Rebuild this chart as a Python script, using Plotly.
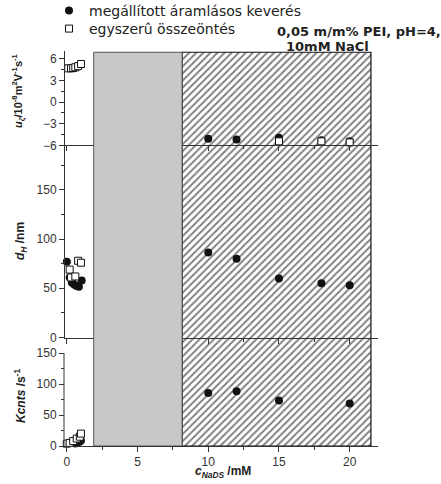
import plotly.graph_objects as go

# ---------------- data ----------------
series_names = ["megállított áramlásos keverés", "egyszerû összeöntés"]
title_line1 = "0,05 m/m% PEI, pH=4,"
title_line2 = "10mM NaCl"

# concentration regions (mM)
gray_region = [1.9, 8.15]
hatch_region = [8.15, 21.5]
x_range = [-0.2, 22.0]
x_ticks = [0, 5, 10, 15, 20]

# top panel: electrophoretic mobility (10^-8 m2 V-1 s-1)
u_flow_c = [10, 12, 15, 18, 20]
u_flow = [-5.1, -5.2, -4.95, -5.3, -5.45]
u_pour_c = [0.1, 0.3, 0.45, 0.6, 0.8, 1.0, 15, 18, 20]
u_pour = [4.7, 4.7, 4.75, 4.85, 5.0, 5.3, -5.45, -5.45, -5.6]
u_ticks = [-6, -3, 0, 3, 6]
u_range = [-6, 7.15]

# middle panel: hydrodynamic diameter (nm)
d_flow_c = [0.0, 0.2, 0.35, 0.5, 0.65, 0.85, 1.05, 10, 12, 15, 18, 20]
d_flow = [77, 61, 56, 54, 52.5, 51.5, 58, 86.4, 80, 60, 55, 53]
d_pour_c = [0.2, 0.3, 0.6, 0.8, 1.0]
d_pour = [69, 61, 62, 78, 76]
d_ticks = [0, 50, 100, 150]
d_range = [0, 195.3]

# bottom panel: count rate (Kcnts/s)
k_flow_c = [0.6, 0.75, 0.9, 1.0, 10, 12, 15, 20]
k_flow = [4, 5.5, 7, 9, 85.5, 88.5, 73.5, 68.5]
k_pour_c = [0.0, 0.2, 0.45, 0.7, 0.92, 1.0]
k_pour = [3.8, 5, 8, 12, 15, 20]
k_ticks = [0, 50, 100, 150]
k_range = [0, 175]

# ---------------- figure ----------------
FONT = "Arial, Liberation Sans, sans-serif"
WIDE = "DejaVu Sans, Arial, sans-serif"
AX = "#333333"
TXT = "#222222"
fig = go.Figure()

# hatched region (drawn first, underneath everything)
fig.add_trace(go.Scatter(
    x=[hatch_region[0], hatch_region[1], hatch_region[1], hatch_region[0], hatch_region[0]],
    y=[0, 0, 1, 1, 0], xaxis="x", yaxis="y", mode="lines", fill="toself",
    fillcolor="rgba(0,0,0,0)",
    fillpattern=dict(shape="/", fgcolor="#000000", bgcolor="rgba(0,0,0,0)", size=5, solidity=0.38),
    line=dict(color="#111111", width=1.2), hoverinfo="skip", showlegend=False))

circle = dict(symbol="circle", size=8, color="#111111", line=dict(width=0))
square = dict(symbol="square", size=7, color="white", line=dict(color="#111111", width=1))

panels = [
    ("x2", "y2", u_flow_c, u_flow, u_pour_c, u_pour, False),
    ("x3", "y3", d_flow_c, d_flow, d_pour_c, d_pour, True),
    ("x4", "y4", k_flow_c, k_flow, k_pour_c, k_pour, False),
]
for xa, ya, fc, fv, pc, pv, leg in panels:
    fig.add_trace(go.Scatter(x=fc, y=fv, xaxis=xa, yaxis=ya, mode="markers", marker=circle,
                             name=series_names[0], legend="legend", showlegend=leg, cliponaxis=False))
    fig.add_trace(go.Scatter(x=pc, y=pv, xaxis=xa, yaxis=ya, mode="markers", marker=square,
                             name=series_names[1], legend="legend2", showlegend=leg, cliponaxis=False))

# gray region (drawn last, covers axis lines)
fig.add_trace(go.Scatter(
    x=[gray_region[0], gray_region[1], gray_region[1], gray_region[0], gray_region[0]],
    y=[0, 0, 1, 1, 0], xaxis="x5", yaxis="y5", mode="lines", fill="toself",
    fillcolor="#c8c8ca", line=dict(color="#555555", width=1), hoverinfo="skip", showlegend=False))

# plot area spans page rows 0..446 and page cols 64..378
BOTTOM = 446.0
H = 446.0


def frac(py):
    return (BOTTOM - py) / H


def px(x):
    return (x - 64) / 314.0


top_edge = frac(50.7)
dom_bottom = [0, frac(337.5)]
dom_mid = [frac(337.5), frac(145.3)]
dom_top = [frac(145.3), top_edge]
dom_full = [0, top_edge]

hidden = dict(visible=False, showgrid=False, zeroline=False, automargin=False)


def xax(anchor, labels):
    return dict(anchor=anchor, range=x_range, domain=[0, 1], showline=True, linecolor=AX, linewidth=1,
                ticks="outside", ticklen=5, tickcolor=AX, tickvals=x_ticks, showticklabels=labels,
                minor=dict(ticks="outside", ticklen=3, dtick=2.5, tick0=0, tickcolor=AX),
                showgrid=False, zeroline=False, automargin=False,
                tickfont=dict(size=12, color="#333333", family=FONT))


def yax(dom, rng, ticks, dminor, line=True):
    return dict(domain=dom, range=rng, anchor="free", position=0, showline=line, linecolor=AX,
                linewidth=1, ticks="outside", ticklen=5, tickcolor=AX, tickvals=ticks,
                minor=dict(ticks="outside", ticklen=3, dtick=dminor, tick0=0, tickcolor=AX),
                showgrid=False, zeroline=False, automargin=False,
                tickfont=dict(size=12, color="#333333", family=FONT))


legend_style = dict(xanchor="left", yanchor="top", bgcolor="rgba(0,0,0,0)",
                    font=dict(size=14, family=WIDE, color=TXT))

fig.update_layout(
    width=441, height=484, margin=dict(l=64, r=63, t=0, b=38, autoexpand=False),
    paper_bgcolor="white", plot_bgcolor="rgba(0,0,0,0)",
    font=dict(family=FONT, color=TXT),
    xaxis=dict(hidden, range=x_range, domain=[0, 1], anchor="y"),
    yaxis=dict(hidden, range=[0, 1.004], domain=dom_full, anchor="x"),
    xaxis2=xax("y2", False), yaxis2=yax(dom_top, u_range, u_ticks, 1.5),
    xaxis3=xax("y3", False), yaxis3=yax(dom_mid, d_range, d_ticks, 25),
    xaxis4=xax("y4", True), yaxis4=yax(dom_bottom, k_range, k_ticks, 25, line=False),
    xaxis5=dict(hidden, range=x_range, domain=[0, 1], anchor="y5"),
    yaxis5=dict(hidden, range=[0, 1.004], domain=dom_full, anchor="x5"),
    legend=dict(legend_style, x=px(49), y=1 + 5 / H),
    legend2=dict(legend_style, x=px(49), y=1 - 13 / H),
    showlegend=True,
)

# left axis line of the bottom panel spans only the ticked range
fig.add_shape(type="line", xref="x4 domain", yref="y4", x0=0, x1=0, y0=min(k_ticks), y1=max(k_ticks),
              line=dict(color=AX, width=1))

ann = []
ann.append(dict(text="<b>" + title_line1 + "</b>", x=px(275), y=frac(32), xref="paper", yref="paper",
                xanchor="left", yanchor="middle", showarrow=False, font=dict(size=13, family=WIDE, color=TXT)))
ann.append(dict(text="<b>" + title_line2 + "</b>", x=px(284), y=frac(46.7), xref="paper", yref="paper",
                xanchor="left", yanchor="middle", showarrow=False, font=dict(size=13, family=WIDE, color=TXT)))
ann.append(dict(text="<b><i>u</i><sub><i>ζ</i></sub>/10<sup>-8</sup>m<sup>2</sup>V<sup>-1</sup>s<sup>-1</sup></b>",
                x=px(18), y=frac(91), xref="paper", yref="paper", textangle=-90, showarrow=False,
                xanchor="center", yanchor="middle", font=dict(size=11, family=FONT, color=TXT)))
ann.append(dict(text="<b><i>d</i><sub><i>H</i></sub> /nm</b>", x=px(21), y=frac(241), xref="paper", yref="paper",
                textangle=-90, showarrow=False, xanchor="center", yanchor="middle",
                font=dict(size=12, family=FONT, color=TXT)))
ann.append(dict(text="<b><i>Kcnts</i> /s<sup>-1</sup></b>", x=px(20), y=frac(396), xref="paper", yref="paper",
                textangle=-90, showarrow=False, xanchor="center", yanchor="middle",
                font=dict(size=12, family=FONT, color=TXT)))
ann.append(dict(text="<b><i>c</i><sub><i>NaDS</i></sub> /mM</b>", x=px(223), y=frac(472), xref="paper", yref="paper",
                showarrow=False, xanchor="center", yanchor="middle", font=dict(size=12, family=FONT, color=TXT)))
fig.update_layout(annotations=ann)

fig.write_html("out.html", config={"displayModeBar": False},
               post_script="document.body.style.margin='0px';")
